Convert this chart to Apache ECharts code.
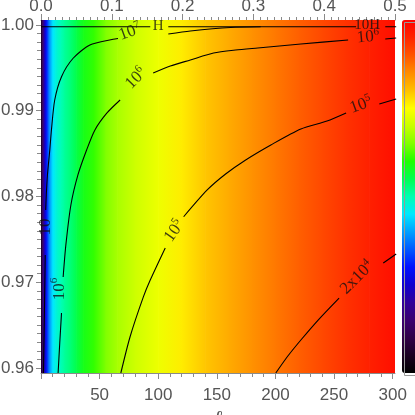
<!DOCTYPE html>
<html><head><meta charset="utf-8">
<script src="https://cdn.jsdelivr.net/npm/echarts@6/dist/echarts.min.js"></script>
<style>html,body{margin:0;padding:0;background:#fff}#c{width:415px;height:415px}</style>
</head><body><div id="c"></div>
<script>
// ---- axes ----
const Y_MIN = 0.95942, Y_MAX = 1.00058;
const ELL_MIN = 0, ELL_MAX = 302;
const bottomTickLabels = [50, 100, 150, 200, 250, 300];
const bottomMajorTicks = [0, 50, 100, 150, 200, 250, 300];
const yTickLabels = [0.96, 0.97, 0.98, 0.99, 1.00];

// ---- colour field (position in the colour table) sampled along ell ----
const ellSamples = [0,1,2,3,4,5,6,7,8,9,10,12,14,17,20,25,30,36,45,55,65,80,100,120,140,160,180,200,220,240,260,280,302];
const colourLevel = [0.05,0.12,0.18,0.24,0.28,0.32,0.355,0.385,0.41,0.43,0.45,0.468,0.482,0.497,0.512,0.53,0.555,0.585,0.61,0.65,0.678,0.705,0.735,0.765,0.795,0.82,0.845,0.868,0.89,0.912,0.935,0.955,0.98];
const rainbow = ['#000000','#1a0022','#300048','#3a0070','#30009a','#1000d0','#0010ff','#0058ff','#00a0ff','#00e8ff','#00ffb0','#00ff50','#20ff00','#80ff00','#c8ff00','#ffff00','#ffc000','#ff8c00','#ff5400','#ff2400','#ff0000'];

// ---- contour lines [ell, y] ----
const top_a = [[0,0.9998],[93.2,0.9998]];
const top_b = [[108.6,0.9998],[268.8,0.9998]];
const top_c = [[293.7,0.9998],[303,0.9998]];
const c1e7_a = [[2.1,0.95942],[2.7,0.96443],[3.2,0.9691],[3.6,0.97318]];
const c1e7_b = [[4.0,0.97843],[4.5,0.98017],[5.5,0.98251],[7.5,0.98542],[8.9,0.98776],[11.7,0.99125],[17.5,0.99397],[27.4,0.99612],[41.7,0.99767],[61.5,0.99833],[65.7,0.99843]];
const c1e7_c = [[108.6,0.99895],[127.4,0.9993],[161.7,0.99971],[187.4,0.9998]];
const c1e6_a = [[14.6,0.95942],[16.0,0.96292],[17.5,0.96641]];
const c1e6_b = [[18.9,0.97061],[21.2,0.97434],[25.5,0.97901],[31.5,0.98251],[38.9,0.98542],[46,0.98776],[56.3,0.98974],[67.5,0.99125]];
const c1e6_c = [[95.7,0.9944],[110.3,0.99522],[127.4,0.99592],[147.2,0.99673],[166,0.99708],[184.9,0.99732],[221.7,0.99778],[262,0.99825]];
const c1e6_d = [[293.7,0.99837],[303,0.99848]];
const c1e5_a = [[68.1,0.95942],[76,0.96365],[87.4,0.96832],[93.2,0.97026],[106,0.9740]];
const c1e5_b = [[121.7,0.97764],[141.8,0.98076],[157.5,0.98262],[174.6,0.98426],[196.1,0.98601],[221.7,0.98787],[244,0.9888],[260.3,0.98974]];
const c1e5_c = [[288.6,0.99079],[303,0.99137]];
const c2e4_a = [[200.3,0.95942],[210.6,0.9614],[221.7,0.96327],[237.2,0.96571],[254.3,0.96816]];
const c2e4_b = [[292,0.97224],[303,0.9733]];
const contourSegments = [top_a, top_b, top_c, c1e7_a, c1e7_b, c1e7_c, c1e6_a, c1e6_b, c1e6_c, c1e6_d, c1e5_a, c1e5_b, c1e5_c, c2e4_a, c2e4_b];

// ---- contour labels ----
const labelText = ['{b|10}', '{b|10}{s|7}', '{h|H}', '{h|10H}', '{b|10}{s|6}', '{b|10}{s|6}', '{b|10}{s|6}', '{b|10}{s|5}', '{b|10}{s|5}', '{b|2x10}{s|4}'];
const labelAt = [[3.8,0.97644],[76,0.99918],[100,0.99988],[278.3,0.99994],[15.4,0.96921],[81,0.99378],[279,0.9986],[113.8,0.97598],[273,0.99067],[269.7,0.97055]];
const labelAngle = [90, 20, 0, 0, 90, 45, 5, 55, 20, 45];

const minorY = [];
for (let i = 1; i < 40; i++) { if (i % 10) minorY.push(+(0.96 + i * 0.001).toFixed(3)); }
const allY = [];
for (let i = 0; i <= 40; i++) allY.push(+(0.96 + i * 0.001).toFixed(3));
const minorX = [];
for (let v = 10; v < 300; v += 10) { if (v % 50) minorX.push(v); }

const heat = [];
for (let i = 0; i < ellSamples.length - 1; i++) heat.push([ellSamples[i], ellSamples[i + 1], colourLevel[i], colourLevel[i + 1]]);

const AX = '#8a8a8a', TX = '#555';
const lab = { color: TX, fontFamily: 'Liberation Sans', fontSize: 17 };

const series = [{
  type: 'custom', xAxisIndex: 0, yAxisIndex: 0, clip: true, silent: true,
  encode: { x: [0, 1] },
  data: heat,
  renderItem: function (params, api) {
    const p0 = api.coord([api.value(0), Y_MAX]);
    const p1 = api.coord([api.value(1), Y_MIN]);
    const cA = echarts.color.lerp(api.value(2), rainbow);
    const cB = echarts.color.lerp(api.value(3), rainbow);
    return { type: 'rect', shape: { x: p0[0], y: p0[1], width: p1[0] - p0[0] + 0.7, height: p1[1] - p0[1] },
      style: { fill: new echarts.graphic.LinearGradient(0, 0, 1, 0, [{ offset: 0, color: cA }, { offset: 1, color: cB }]) } };
  }
}];
contourSegments.forEach(seg => series.push({
  type: 'line', xAxisIndex: 0, yAxisIndex: 0, data: seg, showSymbol: false, symbol: 'none',
  smooth: 0.25, silent: true, z: 3, lineStyle: { color: '#000', width: 1.1 }
}));
series.push({
  type: 'scatter', xAxisIndex: 0, yAxisIndex: 0, silent: true, z: 5, symbolSize: 1,
  itemStyle: { color: 'rgba(0,0,0,0)' },
  label: { show: true, position: 'inside',
    rich: {
      b: { fontFamily: 'Liberation Serif', fontSize: 17, color: '#111', lineHeight: 20 },
      s: { fontFamily: 'Liberation Serif', fontSize: 11, color: '#111', lineHeight: 11, verticalAlign: 'top' },
      h: { fontFamily: 'Liberation Serif', fontSize: 15, color: '#111', lineHeight: 16 }
    } },
  data: labelAt.map((p, i) => ({ value: p, label: { formatter: labelText[i], rotate: labelAngle[i] } }))
});

const chart = echarts.init(document.getElementById('c'), null, { renderer: 'canvas' });
chart.setOption({
  animation: false,
  backgroundColor: '#fff',
  grid: { left: 41, top: 20, width: 354, height: 353, containLabel: false, outerBoundsMode: 'none' },
  xAxis: [
    { type: 'value', position: 'bottom', min: ELL_MIN, max: ELL_MAX, interval: 50,
      name: 'ℓ', nameLocation: 'middle', nameGap: 34,
      nameTextStyle: { fontFamily: 'Liberation Serif', fontStyle: 'italic', fontSize: 20, color: TX },
      axisLine: { show: true, lineStyle: { color: AX } },
      axisTick: { show: true, inside: false, length: 6, customValues: bottomMajorTicks, lineStyle: { color: AX } },
      axisLabel: Object.assign({ margin: 14, customValues: bottomTickLabels }, lab),
      splitLine: { show: false } },
    { type: 'value', position: 'bottom', min: ELL_MIN, max: ELL_MAX,
      axisLine: { show: false }, axisLabel: { show: false }, splitLine: { show: false },
      axisTick: { show: true, inside: false, length: 4, customValues: minorX, lineStyle: { color: AX } } },
    { type: 'value', position: 'top', min: 0, max: 0.5, interval: 0.1,
      name: '{r|r}{c|core}', nameLocation: 'middle', nameGap: 18,
      nameTextStyle: { rich: { r: { fontFamily: 'Liberation Sans', fontSize: 17, color: TX, lineHeight: 18 },
                               c: { fontFamily: 'Liberation Sans', fontSize: 12, color: TX, lineHeight: 12, verticalAlign: 'bottom', padding: [0, 0, 0, 3] } } },
      axisLine: { show: true, lineStyle: { color: AX } },
      axisTick: { show: true, inside: false, length: 6, lineStyle: { color: AX } },
      minorTick: { show: true, splitNumber: 10, length: 3, lineStyle: { color: AX } },
      axisLabel: Object.assign({ margin: 5, formatter: v => v.toFixed(1) }, lab),
      splitLine: { show: false }, minorSplitLine: { show: false } }
  ],
  yAxis: [
    { type: 'value', position: 'left', min: Y_MIN, max: Y_MAX,
      axisLine: { show: true, lineStyle: { color: AX } },
      axisTick: { show: true, inside: false, length: 5, customValues: yTickLabels, lineStyle: { color: AX } },
      axisLabel: Object.assign({ margin: 7, customValues: yTickLabels, formatter: v => v.toFixed(2) }, lab),
      splitLine: { show: false } },
    { type: 'value', position: 'left', min: Y_MIN, max: Y_MAX,
      axisLine: { show: false }, axisLabel: { show: false }, splitLine: { show: false },
      axisTick: { show: true, inside: false, length: 3, customValues: minorY, lineStyle: { color: AX } } },
    { type: 'value', position: 'right', min: Y_MIN, max: Y_MAX,
      axisLine: { show: true, lineStyle: { color: AX } }, axisLabel: { show: false }, splitLine: { show: false },
      axisTick: { show: true, inside: true, length: 4, customValues: allY, lineStyle: { color: AX } } }
  ],
  visualMap: {
    type: 'continuous', seriesIndex: 0, dimension: 2, min: 0, max: 1,
    calculable: false, orient: 'vertical', left: 402, top: 20, padding: 0,
    itemWidth: 20, itemHeight: 353, inRange: { color: rainbow }, hoverLink: false
  },
  graphic: [{ type: 'rect', left: 402, top: 20, shape: { width: 20, height: 353 },
    style: { fill: 'none', stroke: '#999', lineWidth: 1 }, z: 100, silent: true }],
  series: series
});
</script></body></html>
